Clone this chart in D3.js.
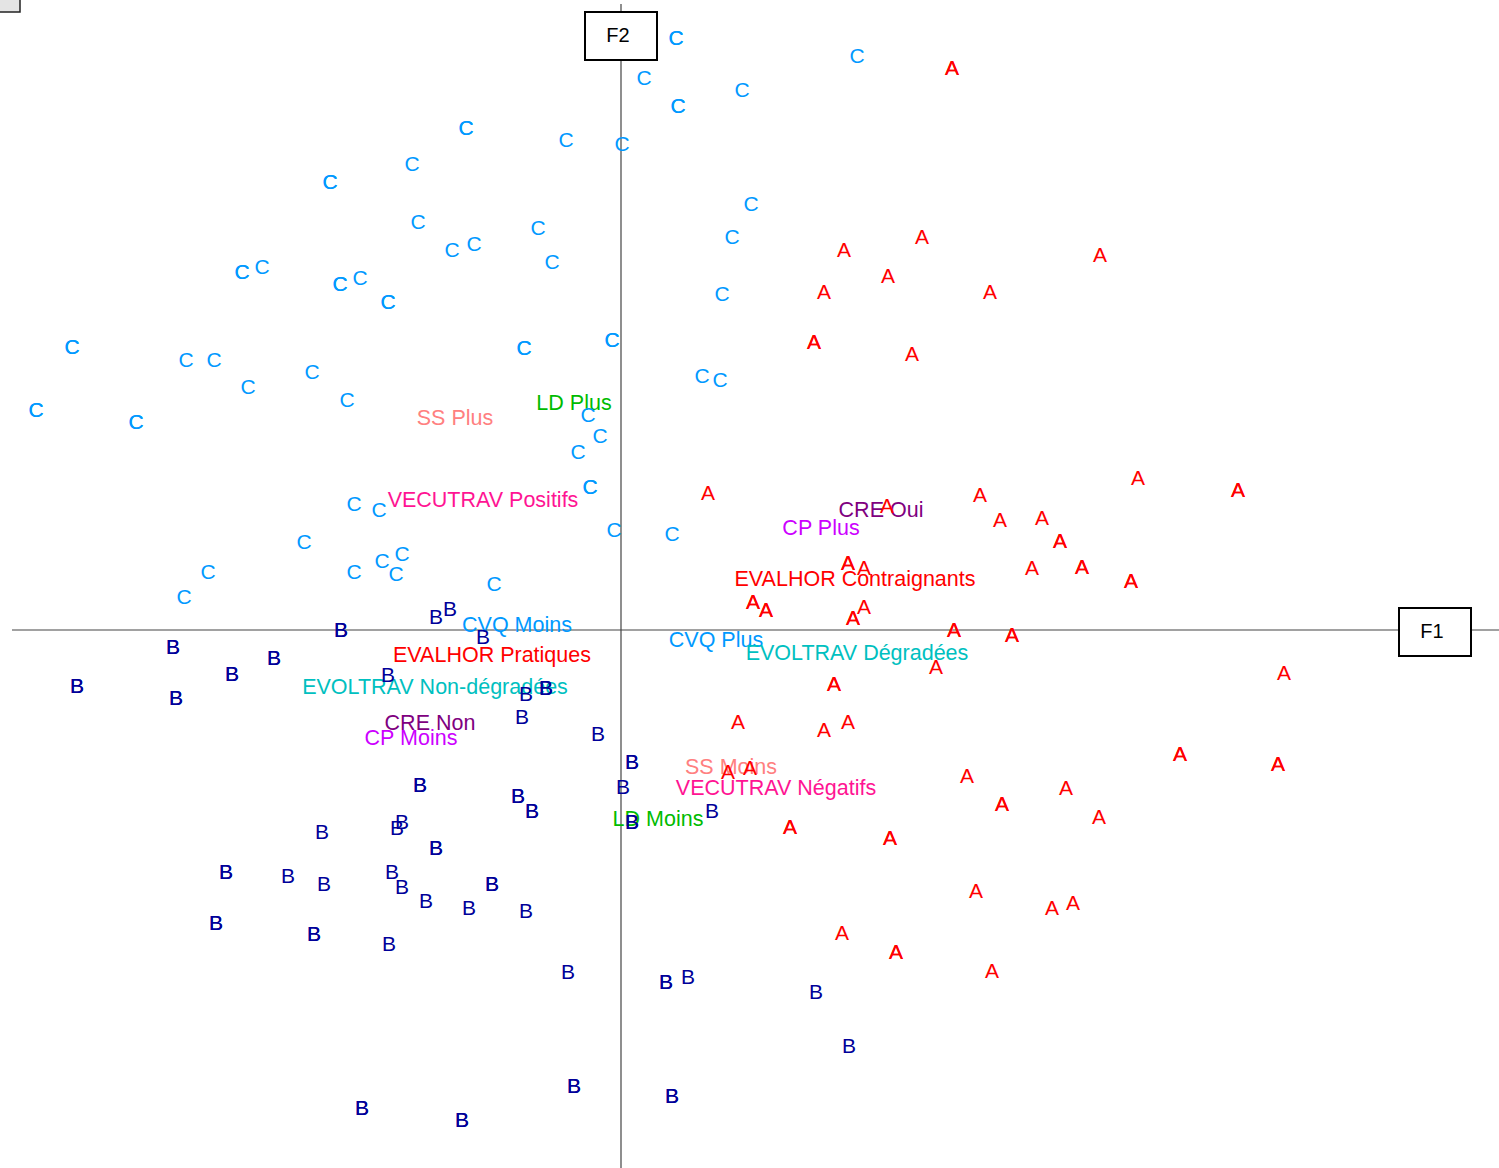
<!DOCTYPE html>
<html>
<head>
<meta charset="utf-8">
<script src="https://cdn.jsdelivr.net/npm/d3@7"></script>
<style>
  html, body { margin: 0; padding: 0; background: #fff; }
  svg { display: block; font-family: "Liberation Sans", Arial, sans-serif; }
</style>
</head>
<body>
<div id="chart"></div>
<script>
// individuals on the factor map, [F1, F2]; repeated pairs are overlapping individuals
var groupA = [
    [3.31, 5.62], [3.31, 5.62], [3.01, 3.93], [2.23, 3.80], [2.67, 3.54], [4.79, 3.75],
    [2.03, 3.38], [3.69, 3.38], [1.93, 2.88], [1.93, 2.88], [2.91, 2.76], [0.87, 1.37],
    [2.66, 1.24], [3.59, 1.35], [3.79, 1.10], [4.21, 1.12], [4.39, 0.89], [4.39, 0.89],
    [2.27, 0.67], [2.27, 0.67], [2.43, 0.62], [4.11, 0.62], [4.61, 0.63], [4.61, 0.63],
    [5.10, 0.49], [5.10, 0.49], [5.17, 1.52], [6.17, 1.40], [6.17, 1.40], [1.32, 0.28],
    [1.32, 0.28], [1.45, 0.20], [1.45, 0.20], [2.43, 0.23], [2.32, 0.12], [2.32, 0.12],
    [3.33, 0.00], [3.33, 0.00], [3.91, -0.05], [3.91, -0.05], [3.15, -0.37], [2.13, -0.54],
    [2.13, -0.54], [6.63, -0.43], [1.17, -0.92], [2.27, -0.92], [2.03, -1.00], [1.07, -1.42],
    [1.29, -1.38], [3.46, -1.46], [4.45, -1.58], [3.81, -1.74], [3.81, -1.74], [4.78, -1.87],
    [1.69, -1.97], [1.69, -1.97], [2.69, -2.08], [2.69, -2.08], [5.59, -1.24], [5.59, -1.24],
    [6.57, -1.34], [6.57, -1.34], [3.55, -2.61], [4.31, -2.78], [4.52, -2.73], [2.21, -3.03],
    [2.75, -3.22], [2.75, -3.22], [3.71, -3.41]
];

var groupB = [
    [-2.80, 0.00], [-2.80, 0.00], [-4.48, -0.17], [-4.48, -0.17], [-3.47, -0.28], [-3.47, -0.28],
    [-3.89, -0.44], [-3.89, -0.44], [-5.44, -0.56], [-5.44, -0.56], [-4.45, -0.68], [-4.45, -0.68],
    [-1.85, 0.13], [-1.71, 0.21], [-1.38, -0.07], [-2.33, -0.45], [-0.95, -0.64], [-0.75, -0.58],
    [-0.75, -0.58], [-0.99, -0.87], [-0.23, -1.04], [0.11, -1.32], [0.11, -1.32], [-2.01, -1.55],
    [-2.01, -1.55], [-1.03, -1.66], [-1.03, -1.66], [-0.89, -1.81], [-0.89, -1.81], [0.02, -1.57],
    [0.91, -1.81], [0.11, -1.92], [0.11, -1.92], [-2.19, -1.92], [-2.24, -1.98], [-2.99, -2.02],
    [-1.85, -2.18], [-1.85, -2.18], [-3.95, -2.42], [-3.95, -2.42], [-3.33, -2.46], [-2.97, -2.54],
    [-2.29, -2.42], [-2.19, -2.57], [-1.29, -2.54], [-1.29, -2.54], [-1.95, -2.71], [-1.52, -2.78],
    [-0.95, -2.81], [-4.05, -2.93], [-4.05, -2.93], [-3.07, -3.04], [-3.07, -3.04], [-2.32, -3.14],
    [-0.53, -3.42], [0.45, -3.52], [0.45, -3.52], [0.67, -3.47], [1.95, -3.62], [2.28, -4.16],
    [-0.47, -4.56], [-0.47, -4.56], [0.51, -4.66], [0.51, -4.66], [-2.59, -4.78], [-2.59, -4.78],
    [-1.59, -4.90], [-1.59, -4.90]
];

var groupC = [
    [0.55, 5.92], [0.55, 5.92], [0.23, 5.52], [0.57, 5.24], [0.57, 5.24], [1.21, 5.40],
    [2.36, 5.74], [0.01, 4.86], [-0.55, 4.90], [-1.55, 5.02], [-1.55, 5.02], [-2.09, 4.66],
    [-2.91, 4.48], [-2.91, 4.48], [-2.03, 4.08], [-1.69, 3.80], [-1.47, 3.86], [-0.83, 4.02],
    [-0.69, 3.68], [1.30, 4.26], [1.11, 3.93], [-3.79, 3.58], [-3.79, 3.58], [-3.59, 3.63],
    [-2.81, 3.46], [-2.81, 3.46], [-2.61, 3.52], [-2.33, 3.28], [-2.33, 3.28], [1.01, 3.36],
    [-5.49, 2.83], [-5.49, 2.83], [-4.35, 2.70], [-4.07, 2.70], [-3.73, 2.43], [-3.09, 2.58],
    [-2.74, 2.30], [-0.97, 2.82], [-0.97, 2.82], [-0.09, 2.90], [-0.09, 2.90], [0.81, 2.54],
    [0.99, 2.50], [-5.85, 2.20], [-5.85, 2.20], [-4.85, 2.08], [-4.85, 2.08], [-0.33, 2.15],
    [-0.21, 1.94], [-0.43, 1.78], [-0.31, 1.43], [-0.31, 1.43], [-2.67, 1.26], [-2.42, 1.20],
    [-0.07, 1.00], [0.51, 0.96], [-3.17, 0.88], [-4.13, 0.58], [-4.37, 0.33], [-2.67, 0.58],
    [-2.39, 0.69], [-2.19, 0.76], [-2.25, 0.56], [-1.27, 0.46]
];

// active modalities
var modalities = ['SS Plus', 'LD Plus', 'VECUTRAV Positifs', 'CVQ Moins', 'EVALHOR Pratiques',
    'EVOLTRAV Non-dégradées', 'CRE Non', 'CP Moins', 'CRE Oui', 'CP Plus',
    'EVALHOR Contraignants', 'CVQ Plus', 'EVOLTRAV Dégradées', 'SS Moins',
    'VECUTRAV Négatifs', 'LD Moins'];
var modF1 = [-1.66, -0.47, -1.38, -1.04, -1.29, -1.86, -1.91, -2.10, 2.60, 2.00, 2.34, 0.95, 2.36, 1.10, 1.55, 0.37];
var modF2 = [2.12, 2.27, 1.30, 0.05, -0.25, -0.57, -0.93, -1.08, 1.20, 1.02, 0.51, -0.10, -0.23, -1.37, -1.58, -1.89];

var axisNames = ['F1', 'F2'];

var groupColors = { A: '#ff0000', B: '#000099', C: '#0099ff' };
var varColors = {
    SS: '#ff8080', LD: '#00bb00', VECUTRAV: '#ff1493', CVQ: '#0099ff',
    EVALHOR: '#ff0000', EVOLTRAV: '#00c0c0', CRE: '#800080', CP: '#cc00ff'
};

var width = 1499, height = 1168;

var x = d3.scaleLinear().domain([-6.21, 8.78]).range([0, width]);
var y = d3.scaleLinear().domain([6.30, -5.38]).range([0, height]);

var svg = d3.select('#chart').append('svg')
    .attr('width', width)
    .attr('height', height);

// little leftover box in the corner
svg.append('rect')
    .attr('x', -1).attr('y', -1)
    .attr('width', 21).attr('height', 13)
    .style('fill', '#e4e4e4')
    .style('stroke', '#222')
    .style('stroke-width', 1.5);

// axes through the origin
svg.append('line')
    .attr('x1', 12).attr('x2', width)
    .attr('y1', y(0)).attr('y2', y(0))
    .style('stroke', '#444').style('stroke-width', 1.2);
svg.append('line')
    .attr('x1', x(0)).attr('x2', x(0))
    .attr('y1', 4).attr('y2', height)
    .style('stroke', '#444').style('stroke-width', 1.2);

// axis name boxes
var boxes = [
    { name: axisNames[0], cx: width - 64, cy: y(0) + 2 },
    { name: axisNames[1], cx: x(0), cy: 36 }
];
var box = svg.selectAll('.axisBox')
    .data(boxes)
    .enter().append('g')
    .attr('class', 'axisBox')
    .attr('transform', function (d) { return 'translate(' + d.cx + ',' + d.cy + ')'; });
box.append('rect')
    .attr('x', -36).attr('y', -24)
    .attr('width', 72).attr('height', 48)
    .style('fill', '#fff')
    .style('stroke', '#000')
    .style('stroke-width', 2);
box.append('text')
    .text(function (d) { return d.name; })
    .attr('dx', -3)
    .attr('dy', '0.3em')
    .style('text-anchor', 'middle')
    .style('font-size', '20px')
    .style('fill', '#000');

// modality labels
var mods = modalities.map(function (m, i) {
    return { label: m, f1: modF1[i], f2: modF2[i] };
});
svg.selectAll('.modLabel')
    .data(mods)
    .enter().append('text')
    .attr('class', 'modLabel')
    .text(function (d) { return d.label; })
    .attr('x', function (d) { return x(d.f1); })
    .attr('y', function (d) { return y(d.f2); })
    .attr('dy', '0.33em')
    .style('text-anchor', 'middle')
    .style('font-size', '21.5px')
    .style('fill', function (d) { return varColors[d.label.split(' ')[0]]; });

// individuals drawn as their group letter
var points = [];
[['A', groupA], ['B', groupB], ['C', groupC]].forEach(function (g) {
    g[1].forEach(function (p) {
        points.push({ group: g[0], f1: p[0], f2: p[1] });
    });
});
svg.selectAll('.indiv')
    .data(points)
    .enter().append('text')
    .attr('class', 'indiv')
    .text(function (d) { return d.group; })
    .attr('x', function (d) { return x(d.f1); })
    .attr('y', function (d) { return y(d.f2); })
    .attr('dy', '0.33em')
    .style('text-anchor', 'middle')
    .style('font-size', '21px')
    .style('fill', function (d) { return groupColors[d.group]; });
</script>
</body>
</html>
